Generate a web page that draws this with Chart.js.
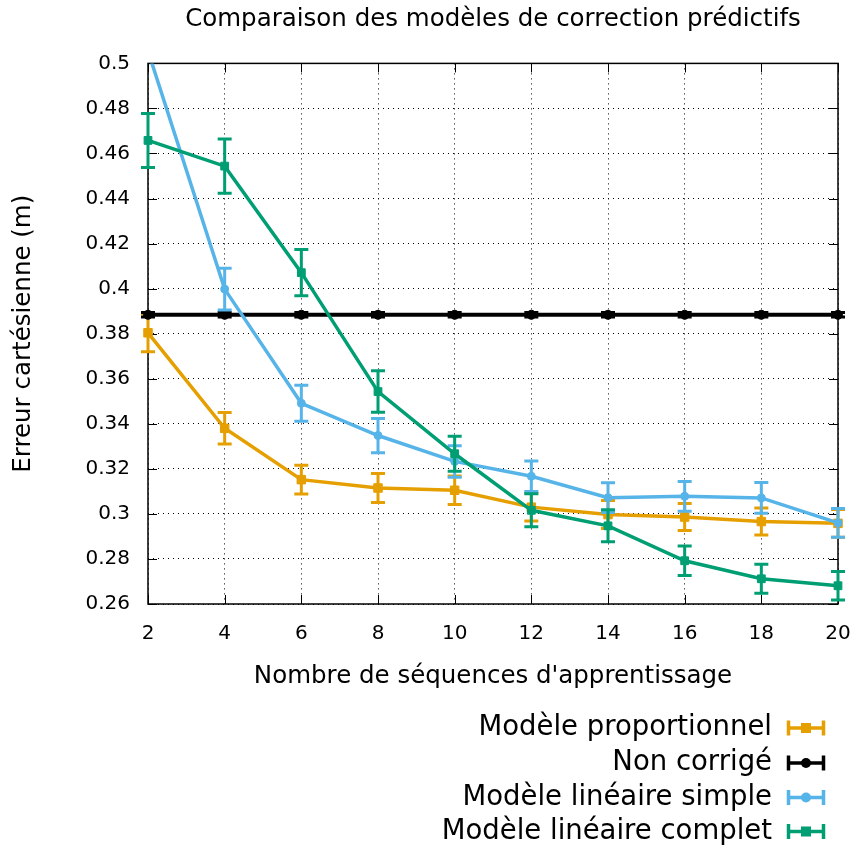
<!DOCTYPE html>
<html><head><meta charset="utf-8">
<script src="https://cdn.jsdelivr.net/npm/chart.js@4"></script>
<style>html,body{margin:0;padding:0;background:#fff}#wrap{width:857px;height:848px}</style>
</head><body><div id="wrap"><canvas id="c" width="857" height="848"></canvas></div>
<script>
const sequences = [2, 4, 6, 8, 10, 12, 14, 16, 18, 20];
const xTicks = [2, 4, 6, 8, 10, 12, 14, 16, 18, 20];
const yTicks = [0.26, 0.28, 0.30, 0.32, 0.34, 0.36, 0.38, 0.40, 0.42, 0.44, 0.46, 0.48, 0.50];

const proportionnel     = [0.3804, 0.3380, 0.3152, 0.3115, 0.3105, 0.3030, 0.2997, 0.2986, 0.2966, 0.2958];
const proportionnelErr  = [0.0084, 0.0070, 0.0064, 0.0064, 0.0063, 0.0062, 0.0062, 0.0060, 0.0060, 0.0062];
const nonCorrige        = [0.3884, 0.3884, 0.3884, 0.3884, 0.3884, 0.3884, 0.3884, 0.3884, 0.3884, 0.3884];
const nonCorrigeErr     = [0.0010, 0.0010, 0.0010, 0.0010, 0.0010, 0.0010, 0.0010, 0.0010, 0.0010, 0.0010];
const lineaireSimple    = [0.5055, 0.3998, 0.3491, 0.3348, 0.3233, 0.3167, 0.3072, 0.3078, 0.3071, 0.2960];
const lineaireSimpleErr = [0.0100, 0.0093, 0.0080, 0.0076, 0.0070, 0.0068, 0.0066, 0.0066, 0.0068, 0.0064];
const lineaireComplet   = [0.4658, 0.4544, 0.4071, 0.3543, 0.3267, 0.3016, 0.2947, 0.2792, 0.2712, 0.2681];
const lineaireCompletErr= [0.0120, 0.0120, 0.0103, 0.0092, 0.0078, 0.0073, 0.0071, 0.0066, 0.0064, 0.0063];

const seriesNames = ['Modèle proportionnel', 'Non corrigé', 'Modèle linéaire simple', 'Modèle linéaire complet'];
const seriesValues = [proportionnel, nonCorrige, lineaireSimple, lineaireComplet];
const seriesErrors = [proportionnelErr, nonCorrigeErr, lineaireSimpleErr, lineaireCompletErr];
const colors = ['#E69F00', '#000000', '#56B4E9', '#009E73'];
const styles = ['rect', 'circle', 'circle', 'rect'];
const radii = [6, 4.5, 4, 5.5];
const widths = [3.5, 4, 3.5, 3.5];

const FONT = "'DejaVu Sans', sans-serif";

const datasets = seriesValues.map((vals, i) => ({
  label: seriesNames[i],
  data: sequences.map((x, j) => ({x: x, y: vals[j]})),
  borderColor: colors[i],
  backgroundColor: colors[i],
  borderWidth: widths[i],
  pointStyle: styles[i],
  pointRadius: radii[i],
  pointBorderWidth: 1,
  pointBackgroundColor: colors[i],
  tension: 0,
  order: 4 - i,
  clip: {left: 12, right: 12, top: 0, bottom: 12}
}));

const errorBars = {
  id: 'errorBars',
  afterDatasetDraw(chart, args) {
    const i = args.index;
    const errs = seriesErrors[i];
    const vals = seriesValues[i];
    const xs = chart.scales.x, ys = chart.scales.y;
    const ctx = chart.ctx;
    ctx.save();
    ctx.strokeStyle = colors[i];
    ctx.lineWidth = 3;
    ctx.lineCap = 'butt';
    const cap = 7;
    for (let j = 0; j < vals.length; j++) {
      if (vals[j] > ys.max || vals[j] < ys.min) continue;
      const x = xs.getPixelForValue(sequences[j]);
      const yt = ys.getPixelForValue(Math.min(vals[j] + errs[j], ys.max));
      const yb = ys.getPixelForValue(Math.max(vals[j] - errs[j], ys.min));
      ctx.beginPath();
      ctx.moveTo(x, yt); ctx.lineTo(x, yb);
      if (vals[j] + errs[j] <= ys.max) { ctx.moveTo(x - cap, yt); ctx.lineTo(x + cap, yt); }
      if (vals[j] - errs[j] >= ys.min) { ctx.moveTo(x - cap, yb); ctx.lineTo(x + cap, yb); }
      ctx.stroke();
    }
    ctx.restore();
  }
};

const frame = {
  id: 'frame',
  beforeDatasetsDraw(chart) {
    const a = chart.chartArea, ctx = chart.ctx;
    const xs = chart.scales.x, ys = chart.scales.y;
    ctx.save();
    ctx.strokeStyle = '#000';
    ctx.lineWidth = 1;
    ctx.beginPath();
    const tl = 9;
    xTicks.forEach(v => {
      const x = Math.round(xs.getPixelForValue(v)) + 0.5;
      ctx.moveTo(x, a.bottom); ctx.lineTo(x, a.bottom - tl);
      ctx.moveTo(x, a.top); ctx.lineTo(x, a.top + tl);
    });
    yTicks.forEach(v => {
      const y = Math.round(ys.getPixelForValue(v)) + 0.5;
      ctx.moveTo(a.left, y); ctx.lineTo(a.left + tl, y);
      ctx.moveTo(a.right, y); ctx.lineTo(a.right - tl, y);
    });
    ctx.stroke();
    ctx.lineWidth = 1.5;
    ctx.strokeRect(a.left, a.top, a.right - a.left, a.bottom - a.top);
    ctx.restore();
  }
};

const legendRows = [728, 763, 797.5, 831.5];
const customLegend = {
  id: 'customLegend',
  afterDraw(chart) {
    const ctx = chart.ctx;
    ctx.save();
    ctx.font = "27.5px " + FONT;
    ctx.textAlign = 'right';
    ctx.textBaseline = 'middle';
    for (let i = 0; i < seriesNames.length; i++) {
      const y = legendRows[i];
      ctx.fillStyle = '#000';
      ctx.fillText(seriesNames[i], 772, y);
      const x0 = 787, x1 = 825, xm = (x0 + x1) / 2;
      ctx.strokeStyle = colors[i];
      ctx.fillStyle = colors[i];
      ctx.lineWidth = 3.5;
      ctx.beginPath();
      ctx.moveTo(x0, y); ctx.lineTo(x1, y);
      ctx.moveTo(x0 + 1.5, y - 7.5); ctx.lineTo(x0 + 1.5, y + 7.5);
      ctx.moveTo(x1 - 1.5, y - 7.5); ctx.lineTo(x1 - 1.5, y + 7.5);
      ctx.stroke();
      if (styles[i] === 'rect') {
        ctx.fillRect(xm - 5, y - 5, 10, 10);
      } else {
        ctx.beginPath(); ctx.arc(xm, y, 5, 0, Math.PI * 2); ctx.fill();
      }
    }
    ctx.restore();
  }
};

new Chart(document.getElementById('c'), {
  type: 'line',
  data: {datasets: datasets},
  options: {
    responsive: false,
    animation: false,
    events: [],
    layout: {padding: {left: 0, right: 19, top: 0, bottom: 154}},
    plugins: {
      legend: {display: false},
      tooltip: {enabled: false},
      title: {
        display: true,
        text: 'Comparaison des modèles de correction prédictifs',
        fullSize: false,
        color: '#000',
        font: {family: FONT, size: 24.5, weight: 'normal'},
        padding: {top: 5, bottom: 29}
      }
    },
    scales: {
      x: {
        type: 'linear', min: 2, max: 20,
        afterBuildTicks: s => { s.ticks = xTicks.map(v => ({value: v})); },
        afterFit: s => { s.height = 90; },
        ticks: {color: '#000', font: {family: FONT, size: 20}, padding: 2, maxRotation: 0,
          callback: v => String(v)},
        grid: {color: '#000', lineWidth: 1, drawTicks: true, tickLength: 16, tickColor: 'rgba(0,0,0,0)'},
        border: {display: false, dash: [1, 4]},
        title: {display: true, text: "Nombre de séquences d'apprentissage", color: '#000',
          font: {family: FONT, size: 24.5, weight: 'normal'}, padding: {top: 0, bottom: 3}}
      },
      y: {
        type: 'linear', min: 0.26, max: 0.5,
        afterBuildTicks: s => { s.ticks = yTicks.map(v => ({value: v})); },
        afterFit: s => { s.width = 148; },
        ticks: {color: '#000', font: {family: FONT, size: 20}, padding: 18,
          callback: v => String(parseFloat(v.toFixed(2)))},
        grid: {color: '#000', lineWidth: 1, drawTicks: false},
        border: {display: false, dash: [1, 4]},
        title: {display: true, text: 'Erreur cartésienne (m)', color: '#000',
          font: {family: FONT, size: 24.5, weight: 'normal'}, padding: {top: 9, bottom: 0}}
      }
    }
  },
  plugins: [frame, errorBars, customLegend]
});
</script>
</body></html>
